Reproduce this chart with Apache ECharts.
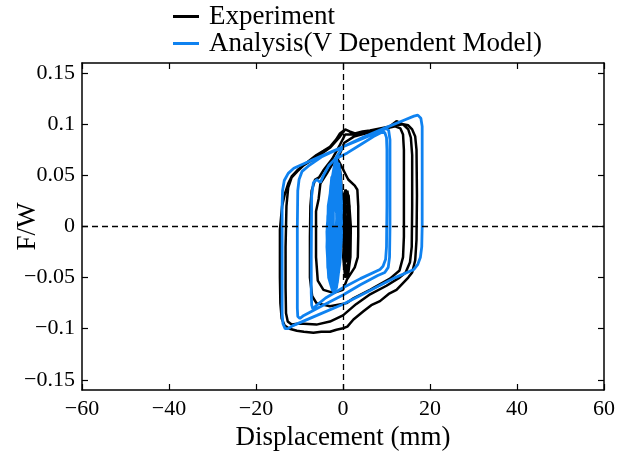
<!DOCTYPE html>
<html>
<head>
<meta charset="utf-8">
<script src="https://cdn.jsdelivr.net/npm/echarts@6/dist/echarts.min.js"></script>
<style>
  html, body { margin: 0; padding: 0; background: #fff; }
  #chart { width: 630px; height: 459px; }
</style>
</head>
<body>
<div id="chart"></div>
<script>
// Axis ticks
const xTicks = [-60, -40, -20, 0, 20, 40, 60];
const yTicks = [-0.15, -0.1, -0.05, 0, 0.05, 0.1, 0.15];

// Experiment: [displacement (mm), F/W], one array per cycle group
const expCore = [
  [0.2, 0.0], [0.4, 0.03], [1.0, 0.035], [1.5, 0.02], [1.6, -0.02], [1.3, -0.04], [0.6, -0.046],
  [0.1, -0.02], [0.2, 0.02], [0.7, 0.033], [1.3, 0.028], [1.5, -0.01], [1.3, -0.035], [0.7, -0.042],
  [0.2, -0.03], [0.1, 0.0], [0.3, 0.028], [0.9, 0.034], [1.4, 0.02], [1.5, -0.025], [1.0, -0.045],
  [0.4, -0.04], [0.0, -0.01], [0.1, 0.03], [0.6, 0.036], [1.3, 0.03], [1.8, 0.0], [1.7, -0.03],
  [1.2, -0.046], [0.5, -0.05], [0.05, -0.03], [0.5, 0.02], [1.0, 0.02], [1.1, -0.02], [0.7, -0.035],
  [0.4, -0.01], [0.8, 0.01], [0.9, -0.02], [0.3, 0.02], [1.0, 0.03], [1.2, -0.03], [0.5, -0.035],
  [-0.5, 0.05]
];
const expLoopSmall = [
  [-1.1, 0.065], [0.0, 0.056], [1.2, 0.046], [2.7, 0.04], [3.3, 0.036], [3.5, 0.02], [3.5, -0.01],
  [3.4, -0.03], [2.7, -0.04], [0.9, -0.052], [0.0, -0.062], [-2.2, -0.065], [-4.5, -0.062],
  [-5.8, -0.053], [-6.2, -0.03], [-6.2, 0.015], [-5.6, 0.027], [-5.2, 0.042], [-3.7, 0.052],
  [-2.2, 0.063], [-1.2, 0.066]
];
const expLoopMid = [
  [0.3, 0.082], [2.5, 0.088], [6.0, 0.092], [10.0, 0.096], [12.0, 0.098], [13.2, 0.096], [13.8, 0.09],
  [14.0, 0.075], [14.0, 0.03], [14.0, -0.01], [13.8, -0.03], [13.0, -0.043], [10.8, -0.051], [6.2, -0.062],
  [2.5, -0.07], [0.8, -0.075], [-3.0, -0.078], [-6.1, -0.075], [-7.1, -0.068], [-7.6, -0.05],
  [-7.6, -0.01], [-7.5, 0.02], [-7.2, 0.035], [-6.4, 0.046], [-5.5, 0.048], [-4.5, 0.055],
  [-2.5, 0.066], [-0.7, 0.08]
];
const expLoopLarge = [
  [0.5, 0.09], [3.0, 0.09], [6.2, 0.093], [10.8, 0.098], [12.3, 0.103], [13.8, 0.1], [15.0, 0.095],
  [15.6, 0.087], [15.9, 0.07], [15.9, 0.02], [15.8, -0.02], [15.4, -0.035], [14.4, -0.045], [13.0, -0.05],
  [10.0, -0.058], [6.0, -0.067], [3.0, -0.076], [0.0, -0.087], [-3.0, -0.093], [-6.1, -0.096],
  [-10.0, -0.095], [-11.8, -0.096], [-12.7, -0.093], [-13.1, -0.085], [-13.2, -0.06], [-13.2, -0.02],
  [-13.0, 0.02], [-12.6, 0.038], [-11.8, 0.048], [-10.5, 0.054], [-9.0, 0.06], [-6.0, 0.068],
  [-3.0, 0.077], [-0.7, 0.088]
];
const expLoopMax = [
  [0.5, 0.095], [1.5, 0.093], [2.75, 0.091], [4.5, 0.093], [6.2, 0.094], [8.5, 0.096], [10.8, 0.098],
  [13.8, 0.1], [15.0, 0.099], [15.9, 0.095], [16.6, 0.088], [16.9, 0.075], [17.0, 0.03], [16.9, -0.013],
  [16.6, -0.033], [15.9, -0.045], [15.0, -0.05], [12.3, -0.062], [10.5, -0.066], [8.5, -0.073],
  [6.5, -0.077], [4.7, -0.083], [2.4, -0.091], [1.0, -0.098], [0.0, -0.0996], [-1.5, -0.101],
  [-3.0, -0.103], [-5.0, -0.103], [-6.8, -0.104], [-9.0, -0.103], [-10.6, -0.102], [-12.3, -0.1],
  [-13.4, -0.097], [-14.1, -0.09], [-14.4, -0.075], [-14.5, -0.05], [-14.5, -0.003], [-14.3, 0.006],
  [-14.0, 0.02], [-13.3, 0.033], [-12.6, 0.042], [-11.8, 0.049], [-10.5, 0.055], [-9.1, 0.06],
  [-6.1, 0.07], [-4.5, 0.074], [-3.0, 0.078], [-1.6, 0.085], [-0.7, 0.091], [0.5, 0.095]
];

// Analysis (V dependent model): [displacement (mm), F/W]
const anaCore = [
  [-0.3, 0.0], [-0.5, 0.035], [-1.0, 0.055], [-1.6, 0.06], [-2.4, 0.045], [-3.3, 0.015], [-3.6, -0.02],
  [-3.2, -0.045], [-2.3, -0.06], [-1.4, -0.05], [-0.6, -0.02],
  [-0.4, 0.015], [-0.7, 0.045], [-1.3, 0.063], [-2.0, 0.058], [-3.0, 0.03], [-3.7, -0.005],
  [-3.5, -0.04], [-2.7, -0.058], [-1.8, -0.064], [-0.9, -0.04], [-0.3, -0.01],
  [-0.5, 0.03], [-0.9, 0.052], [-1.5, 0.066], [-2.3, 0.05], [-3.4, 0.02], [-3.6, -0.025],
  [-3.0, -0.052], [-2.0, -0.065], [-1.2, -0.048], [-0.5, -0.015],
  [-0.35, 0.01], [-0.45, 0.04], [-0.8, 0.057], [-1.2, 0.06], [-2.0, 0.05], [-3.0, 0.028],
  [-3.65, 0.0], [-3.55, -0.03], [-2.9, -0.055], [-2.1, -0.063], [-1.3, -0.055], [-0.6, -0.03],
  [-0.3, 0.02], [-0.6, 0.05], [-1.0, 0.062], [-1.8, 0.057], [-2.7, 0.035], [-3.5, 0.01],
  [-3.7, -0.02], [-3.3, -0.05], [-2.4, -0.063], [-1.5, -0.06], [-0.7, -0.035], [-0.35, -0.005],
  [-0.6, 0.025], [-1.1, 0.058], [-1.9, 0.062], [-2.8, 0.04], [-3.5, 0.005], [-3.3, -0.035],
  [-2.5, -0.06], [-1.6, -0.058], [-0.8, -0.03],
  [-0.4, 0.005], [-0.8, 0.04], [-1.7, 0.055], [-2.6, 0.048], [-3.2, 0.02], [-3.4, -0.015],
  [-2.9, -0.048], [-1.9, -0.06], [-1.0, -0.045], [-0.5, -0.01],
  [-1.0, 0.03], [-1.5, 0.045], [-2.4, 0.035], [-3.0, 0.0], [-2.8, -0.035], [-2.0, -0.05],
  [-1.2, -0.04], [-0.9, -0.01],
  [-0.7, 0.035], [-1.4, 0.05], [-2.2, 0.052], [-2.9, 0.025], [-3.1, -0.02], [-2.6, -0.05],
  [-1.7, -0.053], [-1.0, -0.025],
  [-1.6, 0.025], [-2.6, 0.02], [-2.7, -0.015], [-2.1, -0.04], [-1.5, -0.02], [-1.3, 0.01],
  [-0.9, 0.02], [-1.3, 0.045], [-2.1, 0.042], [-2.6, 0.01], [-2.5, -0.03], [-1.9, -0.045],
  [-1.3, -0.03], [-1.1, 0.0],
  [-2.0, 0.03], [-3.2, 0.005], [-3.1, -0.03], [-2.3, -0.045], [-1.8, -0.02],
  [-1.2, 0.03], [-1.7, 0.04], [-2.2, 0.02], [-2.2, -0.02], [-1.7, -0.035], [-1.4, -0.01], [-1.6, 0.04]
];
const anaLoopSmall = [
  [-1.8, 0.066], [1.0, 0.072], [4.0, 0.08], [7.0, 0.088], [8.8, 0.092], [9.6, 0.092], [10.0, 0.087],
  [10.1, 0.075], [10.1, 0.02], [10.0, -0.02], [9.8, -0.032], [9.2, -0.039], [8.5, -0.042], [4.0, -0.051],
  [0.0, -0.06], [-4.0, -0.07], [-6.3, -0.078], [-6.9, -0.081], [-7.2, -0.077], [-7.3, -0.065],
  [-7.3, -0.03], [-7.2, 0.03], [-6.8, 0.043], [-6.0, 0.046], [-5.2, 0.043], [-4.5, 0.05],
  [-3.2, 0.06], [-1.8, 0.066]
];
const anaLoopMid = [
  [0.0, 0.078], [5.0, 0.087], [8.5, 0.093], [9.9, 0.096], [10.5, 0.094], [10.8, 0.085], [10.8, 0.06],
  [10.8, 0.0], [10.7, -0.03], [10.4, -0.04], [9.6, -0.045], [8.0, -0.048], [4.0, -0.057],
  [0.0, -0.067], [-5.0, -0.078], [-9.0, -0.087], [-9.9, -0.09], [-10.4, -0.088], [-10.5, -0.08],
  [-10.5, -0.05], [-10.5, 0.0], [-10.4, 0.035], [-10.1, 0.046], [-9.4, 0.054], [-8.0, 0.059],
  [-5.0, 0.068]
];
const anaLoopMax = [
  [0.0, 0.078], [5.0, 0.088], [10.0, 0.097], [14.0, 0.104], [16.3, 0.108], [17.2, 0.109],
  [17.9, 0.106], [18.2, 0.098], [18.2, 0.08], [18.2, 0.04], [18.2, 0.0], [18.1, -0.02], [17.8, -0.03],
  [17.2, -0.037], [16.3, -0.042], [12.0, -0.05], [6.0, -0.063], [0.0, -0.076], [-6.0, -0.087],
  [-11.5, -0.097], [-12.6, -0.1], [-13.3, -0.1], [-13.8, -0.095], [-14.0, -0.085], [-14.0, -0.06],
  [-14.0, -0.02], [-14.0, 0.02], [-13.9, 0.035], [-13.5, 0.045], [-12.6, 0.052], [-11.3, 0.057],
  [-10.3, 0.059], [-5.0, 0.069], [0.0, 0.078]
];

const experiment = [].concat(expCore, expLoopSmall, expLoopMid, expLoopLarge, expLoopMax);
const analysis = [].concat(anaCore, anaLoopSmall, anaLoopMid, anaLoopMax);

const FONT = 'Liberation Serif';
const BLUE = '#0f82f0';
const minus = v => String(v).replace('-', '\u2212');

const chart = echarts.init(document.getElementById('chart'), null, { renderer: 'canvas' });

const frameLine = { show: true, onZero: false, lineStyle: { color: '#000', width: 1.5 } };
const innerTick = { show: true, inside: true, length: 6, lineStyle: { color: '#000', width: 1.2 } };

chart.setOption({
  animation: false,
  backgroundColor: '#fff',
  grid: { left: 82, right: 26, top: 63, bottom: 69, containLabel: false, outerBoundsMode: 'none' },
  legend: {
    data: ['Experiment', 'Analysis(V Dependent Model)'],
    orient: 'vertical',
    left: 173,
    top: 3,
    padding: 0,
    itemGap: 0,
    itemWidth: 26,
    itemHeight: 3,
    icon: 'rect',
    textStyle: { fontFamily: FONT, fontSize: 27, color: '#000', lineHeight: 25, padding: [0, 0, 0, 5] }
  },
  xAxis: [
    {
      type: 'value', min: -60, max: 60, interval: 20, position: 'bottom',
      name: 'Displacement (mm)', nameLocation: 'middle', nameGap: 33,
      nameTextStyle: { fontFamily: FONT, fontSize: 27, color: '#000' },
      axisLine: frameLine, axisTick: innerTick, splitLine: { show: false },
      axisLabel: { fontFamily: FONT, fontSize: 22, color: '#000', margin: 8, formatter: minus,
        customValues: xTicks }
    },
    {
      type: 'value', min: -60, max: 60, interval: 20, position: 'top',
      axisLine: frameLine, axisTick: innerTick, axisLabel: { show: false }, splitLine: { show: false }
    }
  ],
  yAxis: [
    {
      type: 'value', min: -0.16, max: 0.16, position: 'left',
      name: 'F/W', nameLocation: 'middle', nameGap: 41, nameRotate: 90, nameMoveOverlap: false,
      nameTextStyle: { fontFamily: FONT, fontSize: 27, color: '#000' },
      axisLine: frameLine, splitLine: { show: false },
      axisTick: Object.assign({}, innerTick, { customValues: yTicks }),
      axisLabel: { fontFamily: FONT, fontSize: 22, color: '#000', margin: 7, formatter: minus,
        customValues: yTicks }
    },
    {
      type: 'value', min: -0.16, max: 0.16, position: 'right',
      axisLine: frameLine, splitLine: { show: false },
      axisTick: Object.assign({}, innerTick, { customValues: yTicks }),
      axisLabel: { show: false }
    }
  ],
  series: [
    {
      name: 'zero',
      type: 'line',
      data: [[0, 0]],
      showSymbol: false,
      lineStyle: { opacity: 0 },
      silent: true,
      z: 1,
      markLine: {
        silent: true,
        symbol: 'none',
        label: { show: false },
        lineStyle: { color: '#000', width: 1.3, type: [6, 4] },
        data: [{ xAxis: 0 }, { yAxis: 0 }]
      }
    },
    {
      name: 'Experiment',
      type: 'line',
      data: experiment,
      showSymbol: false,
      color: '#000',
      lineStyle: { color: '#000', width: 2.5 },
      z: 2
    },
    {
      name: 'Analysis(V Dependent Model)',
      type: 'line',
      data: analysis,
      showSymbol: false,
      color: BLUE,
      lineStyle: { color: BLUE, width: 2.8 },
      z: 3
    }
  ]
});
</script>
</body>
</html>
